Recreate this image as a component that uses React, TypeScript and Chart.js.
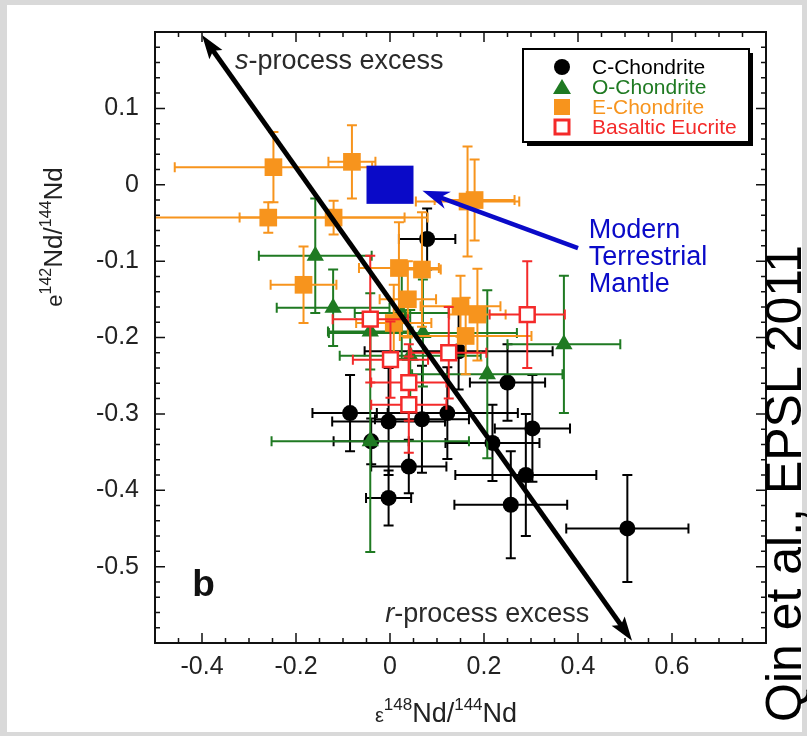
import React, { useEffect, useRef } from "react";
import { Chart, registerables } from "chart.js";

Chart.register(...registerables);

const FONT = "'Liberation Sans', Arial, Helvetica, sans-serif";

// ---------------- data ----------------
const seriesNames = ["C-Chondrite", "O-Chondrite", "E-Chondrite", "Basaltic Eucrite"];

// C-Chondrite (black circles)
const cX = [0.079, 0.146, 0.25, -0.085, -0.003, 0.068, 0.122, 0.303, 0.218, 0.04, 0.289, -0.003, 0.257, 0.505, -0.04];
const cY = [-0.071, -0.218, -0.259, -0.299, -0.31, -0.307, -0.299, -0.319, -0.338, -0.369, -0.38, -0.41, -0.419, -0.45, -0.336];
const cXErr = [0.06, 0.2, 0.08, 0.08, 0.12, 0.1, 0.15, 0.08, 0.1, 0.08, 0.15, 0.048, 0.12, 0.13, 0.08];
const cYErr = [0.04, 0.05, 0.05, 0.05, 0.07, 0.07, 0.06, 0.07, 0.05, 0.035, 0.08, 0.036, 0.07, 0.07, 0.03];

// O-Chondrite (green triangles)
const oX = [-0.159, -0.121, -0.042, 0.043, -0.042, 0.207, 0.37, 0.07, 0.025];
const oY = [-0.093, -0.161, -0.192, -0.224, -0.336, -0.248, -0.209, -0.194, -0.168];
const oXErr = [0.12, 0.12, 0.09, 0.15, 0.21, 0.16, 0.12, 0.2, 0.1];
const oYErr = [0.075, 0.05, 0.05, 0.06, 0.145, 0.11, 0.09, 0.07, 0.06];

// E-Chondrite (orange squares)
const eX = [-0.248, -0.081, -0.259, -0.12, -0.184, 0.019, 0.068, 0.165, 0.18, 0.038, 0.008, 0.15, 0.186, 0.161];
const eY = [0.023, 0.03, -0.043, -0.043, -0.131, -0.109, -0.111, -0.022, -0.02, -0.15, -0.181, -0.159, -0.17, -0.198];
const eXErr = [0.21, 0.05, 0.29, 0.2, 0.07, 0.085, 0.04, 0.11, 0.085, 0.06, 0.08, 0.085, 0.06, 0.14];
const eYErr = [0.046, 0.048, 0.02, 0.022, 0.05, 0.06, 0.075, 0.072, 0.053, 0.05, 0.05, 0.04, 0.06, 0.05];

// Basaltic Eucrite (red open squares)
const bX = [-0.042, 0.001, 0.04, 0.04, 0.125, 0.292];
const bY = [-0.176, -0.229, -0.259, -0.288, -0.22, -0.17];
const bXErr = [0.08, 0.08, 0.08, 0.08, 0.08, 0.08];
const bYErr = [0.083, 0.05, 0.05, 0.063, 0.06, 0.07];

// Modern terrestrial mantle box
const mantleX = [-0.05, 0.05];
const mantleY = [-0.025, 0.025];

// trend arrow (s-process -> r-process) and mantle pointer arrow
const trendStart = [-0.4, 0.196];
const trendEnd = [0.515, -0.597];
const mantleArrowFrom = [0.4, -0.083];
const mantleArrowTo = [0.069, -0.008];

const xRange = [-0.5, 0.8];
const yRange = [-0.6, 0.2];
const xTicks = [-0.4, -0.2, 0, 0.2, 0.4, 0.6];
const yTicks = [0.1, 0, -0.1, -0.2, -0.3, -0.4, -0.5];
const xMinorStep = 0.05;
const xMajorStep = 0.2;
const yMinorStep = 0.02;
const yMajorStep = 0.1;

const COLORS = {
  black: "#000000",
  green: "#1f7a22",
  orange: "#f7941d",
  red: "#f42a2a",
  blue: "#0a0ac8",
  text: "#222222",
};

type Part = { t: string; size: number; rise?: number; style?: string };

function partFont(p: Part) {
  return `${p.style || ""} ${p.size}px ${FONT}`;
}
function richWidth(ctx: CanvasRenderingContext2D, parts: Part[]) {
  let w = 0;
  for (const p of parts) {
    ctx.font = partFont(p);
    w += ctx.measureText(p.t).width;
  }
  return w;
}
function drawRich(ctx: CanvasRenderingContext2D, parts: Part[], x: number, y: number, align: string) {
  const w = richWidth(ctx, parts);
  let cx = align === "center" ? x - w / 2 : align === "right" ? x - w : x;
  ctx.textAlign = "left";
  ctx.textBaseline = "alphabetic";
  for (const p of parts) {
    ctx.font = partFont(p);
    ctx.fillText(p.t, cx, y - (p.rise || 0));
    cx += ctx.measureText(p.t).width;
  }
}

function arrowHead(ctx: CanvasRenderingContext2D, tx: number, ty: number, ux: number, uy: number, len: number, half: number, notch: number) {
  const nx = -uy, ny = ux;
  const bx = tx - ux * len, by = ty - uy * len;
  ctx.beginPath();
  ctx.moveTo(tx, ty);
  ctx.lineTo(bx + nx * half, by + ny * half);
  ctx.lineTo(tx - ux * len * notch, ty - uy * len * notch);
  ctx.lineTo(bx - nx * half, by - ny * half);
  ctx.closePath();
  ctx.fill();
}

const backgroundPlugin = {
  id: "bg",
  beforeDraw(chart: any) {
    const ctx = chart.ctx;
    ctx.save();
    ctx.fillStyle = "#d9d9d9";
    ctx.fillRect(0, 0, chart.width, chart.height);
    ctx.fillStyle = "#ffffff";
    ctx.fillRect(7, 5, chart.width - 12, chart.height - 9);
    ctx.restore();
  },
};

const errorBarPlugin = {
  id: "errorBars",
  beforeDatasetDraw(chart: any, args: any) {
    const ds = chart.data.datasets[args.index];
    if (!ds.errX) return;
    const { ctx, chartArea } = chart;
    const xs = chart.scales.x, ys = chart.scales.y;
    ctx.save();
    ctx.beginPath();
    ctx.rect(chartArea.left, chartArea.top, chartArea.right - chartArea.left, chartArea.bottom - chartArea.top);
    ctx.clip();
    ctx.strokeStyle = ds.barColor;
    ctx.lineWidth = 2;
    const cap = 5;
    ds.data.forEach((p: any, i: number) => {
      const cx = xs.getPixelForValue(p.x);
      const cy = ys.getPixelForValue(p.y);
      const x1 = xs.getPixelForValue(p.x - ds.errX[i]);
      const x2 = xs.getPixelForValue(p.x + ds.errX[i]);
      const y1 = ys.getPixelForValue(p.y - ds.errY[i]);
      const y2 = ys.getPixelForValue(p.y + ds.errY[i]);
      ctx.beginPath();
      ctx.moveTo(x1, cy); ctx.lineTo(x2, cy);
      ctx.moveTo(x1, cy - cap); ctx.lineTo(x1, cy + cap);
      ctx.moveTo(x2, cy - cap); ctx.lineTo(x2, cy + cap);
      ctx.moveTo(cx, y1); ctx.lineTo(cx, y2);
      ctx.moveTo(cx - cap, y1); ctx.lineTo(cx + cap, y1);
      ctx.moveTo(cx - cap, y2); ctx.lineTo(cx + cap, y2);
      ctx.stroke();
    });
    ctx.restore();
  },
};

const annotationPlugin = {
  id: "annotations",
  afterDatasetsDraw(chart: any) {
    const { ctx, chartArea } = chart;
    const xs = chart.scales.x, ys = chart.scales.y;
    const { left, top, right, bottom } = chartArea;
    ctx.save();

    // mantle box
    const mx1 = xs.getPixelForValue(mantleX[0]);
    const mx2 = xs.getPixelForValue(mantleX[1]);
    const my1 = ys.getPixelForValue(mantleY[1]);
    const my2 = ys.getPixelForValue(mantleY[0]);
    ctx.fillStyle = COLORS.blue;
    ctx.fillRect(mx1, my1, mx2 - mx1, my2 - my1);

    // mantle arrow
    {
      const fx = xs.getPixelForValue(mantleArrowFrom[0]);
      const fy = ys.getPixelForValue(mantleArrowFrom[1]);
      const tx = xs.getPixelForValue(mantleArrowTo[0]);
      const ty = ys.getPixelForValue(mantleArrowTo[1]);
      const d = Math.hypot(tx - fx, ty - fy);
      const ux = (tx - fx) / d, uy = (ty - fy) / d;
      ctx.strokeStyle = COLORS.blue;
      ctx.lineWidth = 4.5;
      ctx.beginPath();
      ctx.moveTo(fx, fy);
      ctx.lineTo(tx - ux * 18, ty - uy * 18);
      ctx.stroke();
      ctx.fillStyle = COLORS.blue;
      arrowHead(ctx, tx, ty, ux, uy, 27, 9, 0.7);
    }

    // trend arrow
    {
      const ax = xs.getPixelForValue(trendStart[0]);
      const ay = ys.getPixelForValue(trendStart[1]);
      const bx = xs.getPixelForValue(trendEnd[0]);
      const by = ys.getPixelForValue(trendEnd[1]);
      const d = Math.hypot(bx - ax, by - ay);
      const ux = (bx - ax) / d, uy = (by - ay) / d;
      ctx.strokeStyle = "#000";
      ctx.lineWidth = 5;
      ctx.beginPath();
      ctx.moveTo(ax + ux * 16, ay + uy * 16);
      ctx.lineTo(bx - ux * 16, by - uy * 16);
      ctx.stroke();
      ctx.fillStyle = "#000";
      arrowHead(ctx, bx, by, ux, uy, 24, 8, 0.8);
      arrowHead(ctx, ax, ay, -ux, -uy, 24, 8, 0.8);
    }

    // in-plot labels
    ctx.fillStyle = "#2a2a2a";
    drawRich(ctx, [
      { t: "s", size: 27, style: "italic" },
      { t: "-process excess", size: 27 },
    ], xs.getPixelForValue(-0.33), ys.getPixelForValue(0.152), "left");
    drawRich(ctx, [
      { t: "r", size: 27, style: "italic" },
      { t: "-process excess", size: 27 },
    ], xs.getPixelForValue(-0.01), ys.getPixelForValue(-0.572), "left");

    ctx.fillStyle = "#111";
    drawRich(ctx, [{ t: "b", size: 37, style: "bold" }], xs.getPixelForValue(-0.421), ys.getPixelForValue(-0.539), "left");

    ctx.fillStyle = COLORS.blue;
    const mtX = xs.getPixelForValue(0.423);
    drawRich(ctx, [{ t: "Modern", size: 27 }], mtX, 238, "left");
    drawRich(ctx, [{ t: "Terrestrial", size: 27 }], mtX, 265, "left");
    drawRich(ctx, [{ t: "Mantle", size: 27 }], mtX, 292, "left");

    // frame and inward ticks
    ctx.strokeStyle = "#111";
    ctx.lineWidth = 2;
    ctx.strokeRect(left, top, right - left, bottom - top);
    ctx.lineWidth = 1.5;
    ctx.beginPath();
    const nx = Math.round((xRange[1] - xRange[0]) / xMinorStep);
    for (let i = 0; i <= nx; i++) {
      const v = xRange[0] + i * xMinorStep;
      const isMajor = Math.abs(v / xMajorStep - Math.round(v / xMajorStep)) < 1e-6;
      const len = isMajor ? 10 : 5;
      const px = xs.getPixelForValue(v);
      ctx.moveTo(px, bottom); ctx.lineTo(px, bottom - len);
      ctx.moveTo(px, top); ctx.lineTo(px, top + len);
    }
    const ny = Math.round((yRange[1] - yRange[0]) / yMinorStep);
    for (let i = 0; i <= ny; i++) {
      const v = yRange[0] + i * yMinorStep;
      const isMajor = Math.abs(v / yMajorStep - Math.round(v / yMajorStep)) < 1e-6;
      const len = isMajor ? 10 : 5;
      const py = ys.getPixelForValue(v);
      ctx.moveTo(left, py); ctx.lineTo(left + len, py);
      ctx.moveTo(right, py); ctx.lineTo(right - len, py);
    }
    ctx.stroke();

    ctx.restore();
  },
  afterDraw(chart: any) {
    const { ctx } = chart;
    ctx.save();

    // legend
    const lx = 523, ly = 49, lw = 226, lh = 93;
    ctx.fillStyle = "#000";
    ctx.fillRect(lx + 4, ly + 4, lw, lh);
    ctx.fillStyle = "#fff";
    ctx.fillRect(lx, ly, lw, lh);
    ctx.strokeStyle = "#000";
    ctx.lineWidth = 2;
    ctx.strokeRect(lx, ly, lw, lh);
    const colors = [COLORS.black, COLORS.green, COLORS.orange, COLORS.red];
    seriesNames.forEach((name, i) => {
      const cy = 67 + i * 20;
      const mx = 562;
      ctx.fillStyle = colors[i];
      ctx.strokeStyle = colors[i];
      if (i === 0) {
        ctx.beginPath(); ctx.arc(mx, cy, 8, 0, Math.PI * 2); ctx.fill();
      } else if (i === 1) {
        ctx.beginPath(); ctx.moveTo(mx, cy - 8); ctx.lineTo(mx + 9, cy + 7); ctx.lineTo(mx - 9, cy + 7); ctx.closePath(); ctx.fill();
      } else if (i === 2) {
        ctx.fillRect(mx - 8, cy - 8, 16, 16);
      } else {
        ctx.fillStyle = "#fff";
        ctx.fillRect(mx - 7, cy - 7, 14, 14);
        ctx.lineWidth = 3;
        ctx.strokeRect(mx - 7, cy - 7, 14, 14);
      }
      ctx.fillStyle = colors[i];
      drawRich(ctx, [{ t: name, size: 21 }], 592, cy + 7, "left");
    });

    // axis titles
    ctx.fillStyle = COLORS.text;
    drawRich(ctx, [
      { t: "\u03b5", size: 20 },
      { t: "148", size: 17, rise: 12 },
      { t: "Nd/", size: 27 },
      { t: "144", size: 17, rise: 12 },
      { t: "Nd", size: 27 },
    ], 446, 722, "center");

    ctx.save();
    ctx.translate(62, 237);
    ctx.rotate(-Math.PI / 2);
    drawRich(ctx, [
      { t: "e", size: 22 },
      { t: "142", size: 16, rise: 11 },
      { t: "Nd/", size: 26 },
      { t: "144", size: 16, rise: 11 },
      { t: "Nd", size: 26 },
    ], 0, 0, "center");
    ctx.restore();

    // citation
    ctx.save();
    ctx.translate(801, 722);
    ctx.rotate(-Math.PI / 2);
    ctx.fillStyle = "#000";
    drawRich(ctx, [{ t: "Qin et al., EPSL 2011", size: 50 }], 0, 0, "left");
    ctx.restore();

    ctx.restore();
  },
};

function pts(xs: number[], ys: number[]) {
  return xs.map((x, i) => ({ x, y: ys[i] }));
}

export default function App() {
  const ref = useRef<HTMLCanvasElement | null>(null);
  useEffect(() => {
    if (!ref.current) return;
    const chart = new Chart(ref.current, {
      type: "scatter",
      data: {
        datasets: [
          {
            label: seriesNames[0], data: pts(cX, cY), pointStyle: "circle", pointRadius: 8,
            backgroundColor: COLORS.black, borderColor: COLORS.black, borderWidth: 0, order: 4,
            errX: cXErr, errY: cYErr, barColor: COLORS.black,
          } as any,
          {
            label: seriesNames[1], data: pts(oX, oY), pointStyle: "triangle", pointRadius: 10,
            backgroundColor: COLORS.green, borderColor: COLORS.green, borderWidth: 0, order: 3,
            errX: oXErr, errY: oYErr, barColor: COLORS.green,
          } as any,
          {
            label: seriesNames[2], data: pts(eX, eY), pointStyle: "rect", pointRadius: 12.5,
            backgroundColor: COLORS.orange, borderColor: COLORS.orange, borderWidth: 0, order: 2,
            errX: eXErr, errY: eYErr, barColor: COLORS.orange,
          } as any,
          {
            label: seriesNames[3], data: pts(bX, bY), pointStyle: "rect", pointRadius: 10.5,
            backgroundColor: "#ffffff", borderColor: COLORS.red, borderWidth: 2.5, order: 1,
            errX: bXErr, errY: bYErr, barColor: COLORS.red,
          } as any,
        ],
      },
      options: {
        animation: false,
        responsive: false,
        devicePixelRatio: 1,
        layout: { padding: { left: 0, top: 32, right: 41, bottom: 0 } },
        plugins: { legend: { display: false }, tooltip: { enabled: false } },
        scales: {
          x: {
            type: "linear",
            min: xRange[0],
            max: xRange[1],
            afterBuildTicks: (s: any) => { s.ticks = xTicks.map((v) => ({ value: v })); },
            afterFit: (s: any) => { s.height = 93; },
            ticks: {
              color: COLORS.text,
              font: { family: FONT, size: 25 },
              padding: 9,
              maxRotation: 0,
              autoSkip: false,
              callback: (v: any) => String(Math.round(Number(v) * 10) / 10),
            },
            grid: { display: false, drawTicks: false },
            border: { display: false },
          },
          y: {
            type: "linear",
            min: yRange[0],
            max: yRange[1],
            afterBuildTicks: (s: any) => { s.ticks = yTicks.map((v) => ({ value: v })); },
            afterFit: (s: any) => { s.width = 155; },
            ticks: {
              color: COLORS.text,
              font: { family: FONT, size: 25 },
              padding: 16,
              autoSkip: false,
              callback: (v: any) => String(Math.round(Number(v) * 10) / 10),
            },
            grid: { display: false, drawTicks: false },
            border: { display: false },
          },
        },
      } as any,
      plugins: [backgroundPlugin, errorBarPlugin, annotationPlugin],
    });
    return () => chart.destroy();
  }, []);
  return (
    <div style={{ position: "fixed", left: 0, top: 0, width: 807, height: 736 }}>
      <canvas ref={ref} width={807} height={736} style={{ width: 807, height: 736, display: "block" }} />
    </div>
  );
}
